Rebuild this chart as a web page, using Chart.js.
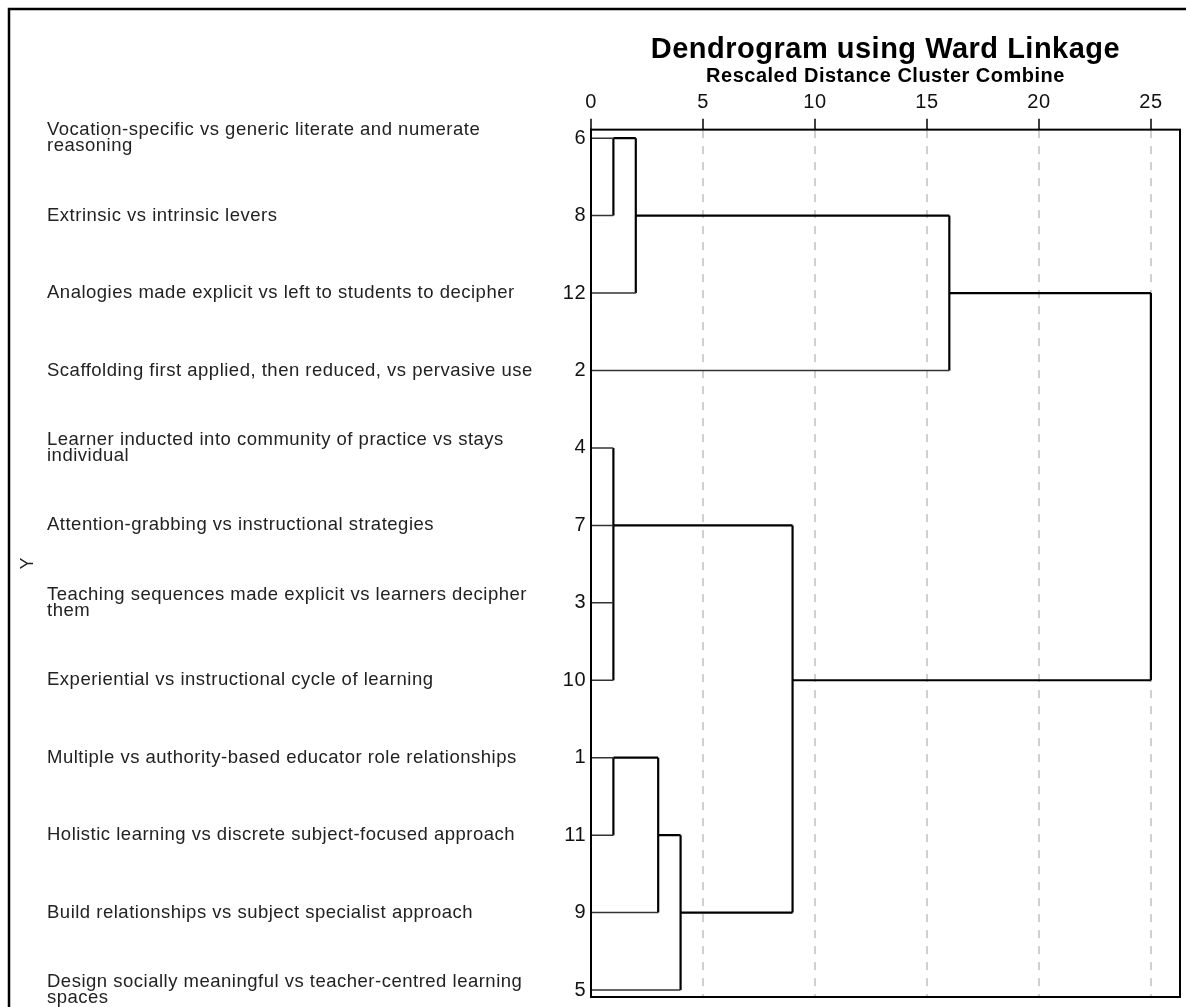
<!DOCTYPE html>
<html>
<head>
<meta charset="utf-8">
<script src="https://cdn.jsdelivr.net/npm/chart.js@4.4.0/dist/chart.umd.min.js"></script>
<style>
  html, body { margin: 0; padding: 0; background: #fff; }
  #wrap { width: 1186px; height: 1007px; }
</style>
</head>
<body>
<div id="wrap"><canvas id="dendro"></canvas></div>
<script>
// leaves, top to bottom, as SPSS ordered them
const leafIds = [6, 8, 12, 2, 4, 7, 3, 10, 1, 11, 9, 5];
const leafLabels = [
  ['Vocation-specific vs generic literate and numerate', 'reasoning'],
  'Extrinsic vs intrinsic levers',
  'Analogies made explicit vs left to students to decipher',
  'Scaffolding first applied, then reduced, vs pervasive use',
  ['Learner inducted into community of practice vs stays', 'individual'],
  'Attention-grabbing vs instructional strategies',
  ['Teaching sequences made explicit vs learners decipher', 'them'],
  'Experiential vs instructional cycle of learning',
  'Multiple vs authority-based educator role relationships',
  'Holistic learning vs discrete subject-focused approach',
  'Build relationships vs subject specialist approach',
  ['Design socially meaningful vs teacher-centred learning', 'spaces']
];

// merge steps: children are leaf ids or earlier steps ('c0' = step 0, ...)
const mergeChildren = [
  [6, 8], ['c0', 12], ['c1', 2],
  [4, 7, 3, 10],
  [1, 11], ['c4', 9], ['c5', 5],
  ['c3', 'c6'],
  ['c2', 'c7']
];
const mergeHeights = [1, 2, 16, 1, 1, 3, 4, 9, 25];

const distTicks = [0, 5, 10, 15, 20, 25];

const FONT = "'Liberation Sans', Arial, sans-serif";

// turn the merges into line segments (x = distance, y = row index)
const leafSegs = [];
const joinSegs = [];
const clusterRow = [];
mergeChildren.forEach(function (kids, m) {
  const h = mergeHeights[m];
  const rows = [];
  kids.forEach(function (k) {
    let row, x0, leaf;
    if (typeof k === 'number') {
      row = leafIds.indexOf(k); x0 = 0; leaf = true;
    } else {
      const c = +k.slice(1);
      row = clusterRow[c]; x0 = mergeHeights[c]; leaf = false;
    }
    (leaf ? leafSegs : joinSegs).push([{x: x0, y: row}, {x: h, y: row}]);
    rows.push(row);
  });
  const lo = Math.min.apply(null, rows), hi = Math.max.apply(null, rows);
  joinSegs.push([{x: h, y: lo}, {x: h, y: hi}]);
  clusterRow.push(Math.floor((lo + hi) / 2));
});

function seg(points, color, width) {
  return {
    type: 'line', data: points, borderColor: color, borderWidth: width,
    pointRadius: 0, fill: false, tension: 0, xAxisID: 'x', yAxisID: 'yIds'
  };
}
const datasets = leafSegs.map(s => seg(s, '#333', 1.5))
  .concat(joinSegs.map(s => seg(s, '#000', 2.2)));

const rowMin = -0.11, rowMax = 11.09;
function rowTicks(scale) {
  scale.ticks = leafIds.map((_, i) => ({value: i}));
}
function rowAxis(width, extra) {
  return Object.assign({
    type: 'linear', position: 'left', reverse: true, min: rowMin, max: rowMax,
    afterBuildTicks: rowTicks,
    // fixed width, and let the long labels run past the plot edges
    afterFit: s => { s.width = width; s.paddingTop = 0; s.paddingBottom = 0; },
    grid: {display: false, drawTicks: false},
    border: {display: false}
  }, extra);
}

// SPSS text is spaced a little wider than plain Arial
const spacingPlugin = {
  id: 'spacing',
  beforeUpdate(chart) { chart.ctx.letterSpacing = '0.5px'; },
  beforeDraw(chart) { chart.ctx.letterSpacing = '0.5px'; }
};

const framePlugin = {
  id: 'frame',
  beforeDraw(chart) {
    const ctx = chart.ctx;
    ctx.save();
    ctx.fillStyle = '#fff';
    ctx.fillRect(0, 0, chart.width, chart.height);
    ctx.strokeStyle = '#000';
    ctx.lineWidth = 2.5;
    ctx.beginPath();
    ctx.moveTo(9, chart.height);
    ctx.lineTo(9, 9);
    ctx.lineTo(chart.width, 9);
    ctx.stroke();
    ctx.restore();
  },
  afterDatasetsDraw(chart) {
    const a = chart.chartArea, ctx = chart.ctx;
    ctx.save();
    ctx.strokeStyle = '#000';
    ctx.lineWidth = 2;
    ctx.strokeRect(a.left, a.top, a.right - a.left, a.bottom - a.top);
    ctx.restore();
  }
};

new Chart(document.getElementById('dendro'), {
  type: 'line',
  data: {datasets: datasets},
  plugins: [spacingPlugin, framePlugin],
  options: {
    responsive: true,
    maintainAspectRatio: false,
    animation: false,
    events: [],
    layout: {padding: {left: 17, right: 6, top: 34.6, bottom: 10}},
    plugins: {
      legend: {display: false},
      tooltip: {enabled: false},
      title: {
        display: true, text: 'Dendrogram using Ward Linkage', fullSize: false,
        color: '#000', font: {family: FONT, size: 29, weight: 'bold', lineHeight: 1.05},
        padding: {top: 0, bottom: 1.6}
      },
      subtitle: {
        display: true, text: 'Rescaled Distance Cluster Combine', fullSize: false,
        color: '#000', font: {family: FONT, size: 20, weight: 'bold', lineHeight: 1.0},
        padding: {top: 0, bottom: 0}
      }
    },
    scales: {
      x: {
        type: 'linear', position: 'top', min: 0, max: 26.3,
        afterBuildTicks: s => { s.ticks = distTicks.map(v => ({value: v})); },
        ticks: {font: {family: FONT, size: 20}, color: '#111', padding: 4, autoSkip: false, maxRotation: 0},
        grid: {color: '#d0d0d0', lineWidth: 2, tickColor: '#000', tickLength: 11, tickWidth: 1.5},
        border: {display: false, dash: [8, 8]}
      },
      yIds: rowAxis(40, {
        weight: 0,
        ticks: {callback: v => leafIds[v], font: {family: FONT, size: 20}, color: '#111', padding: 5, autoSkip: false}
      }),
      yLabels: rowAxis(504, {
        weight: 1,
        ticks: {callback: v => leafLabels[v], crossAlign: 'far', font: {family: FONT, size: 18.5, lineHeight: 0.84},
                color: '#222', autoSkip: false}
      }),
      yTitle: rowAxis(30, {
        weight: 2,
        ticks: {display: false},
        title: {display: true, text: 'Y', font: {family: FONT, size: 18}, color: '#222', padding: 0}
      })
    }
  }
});
</script>
</body>
</html>
